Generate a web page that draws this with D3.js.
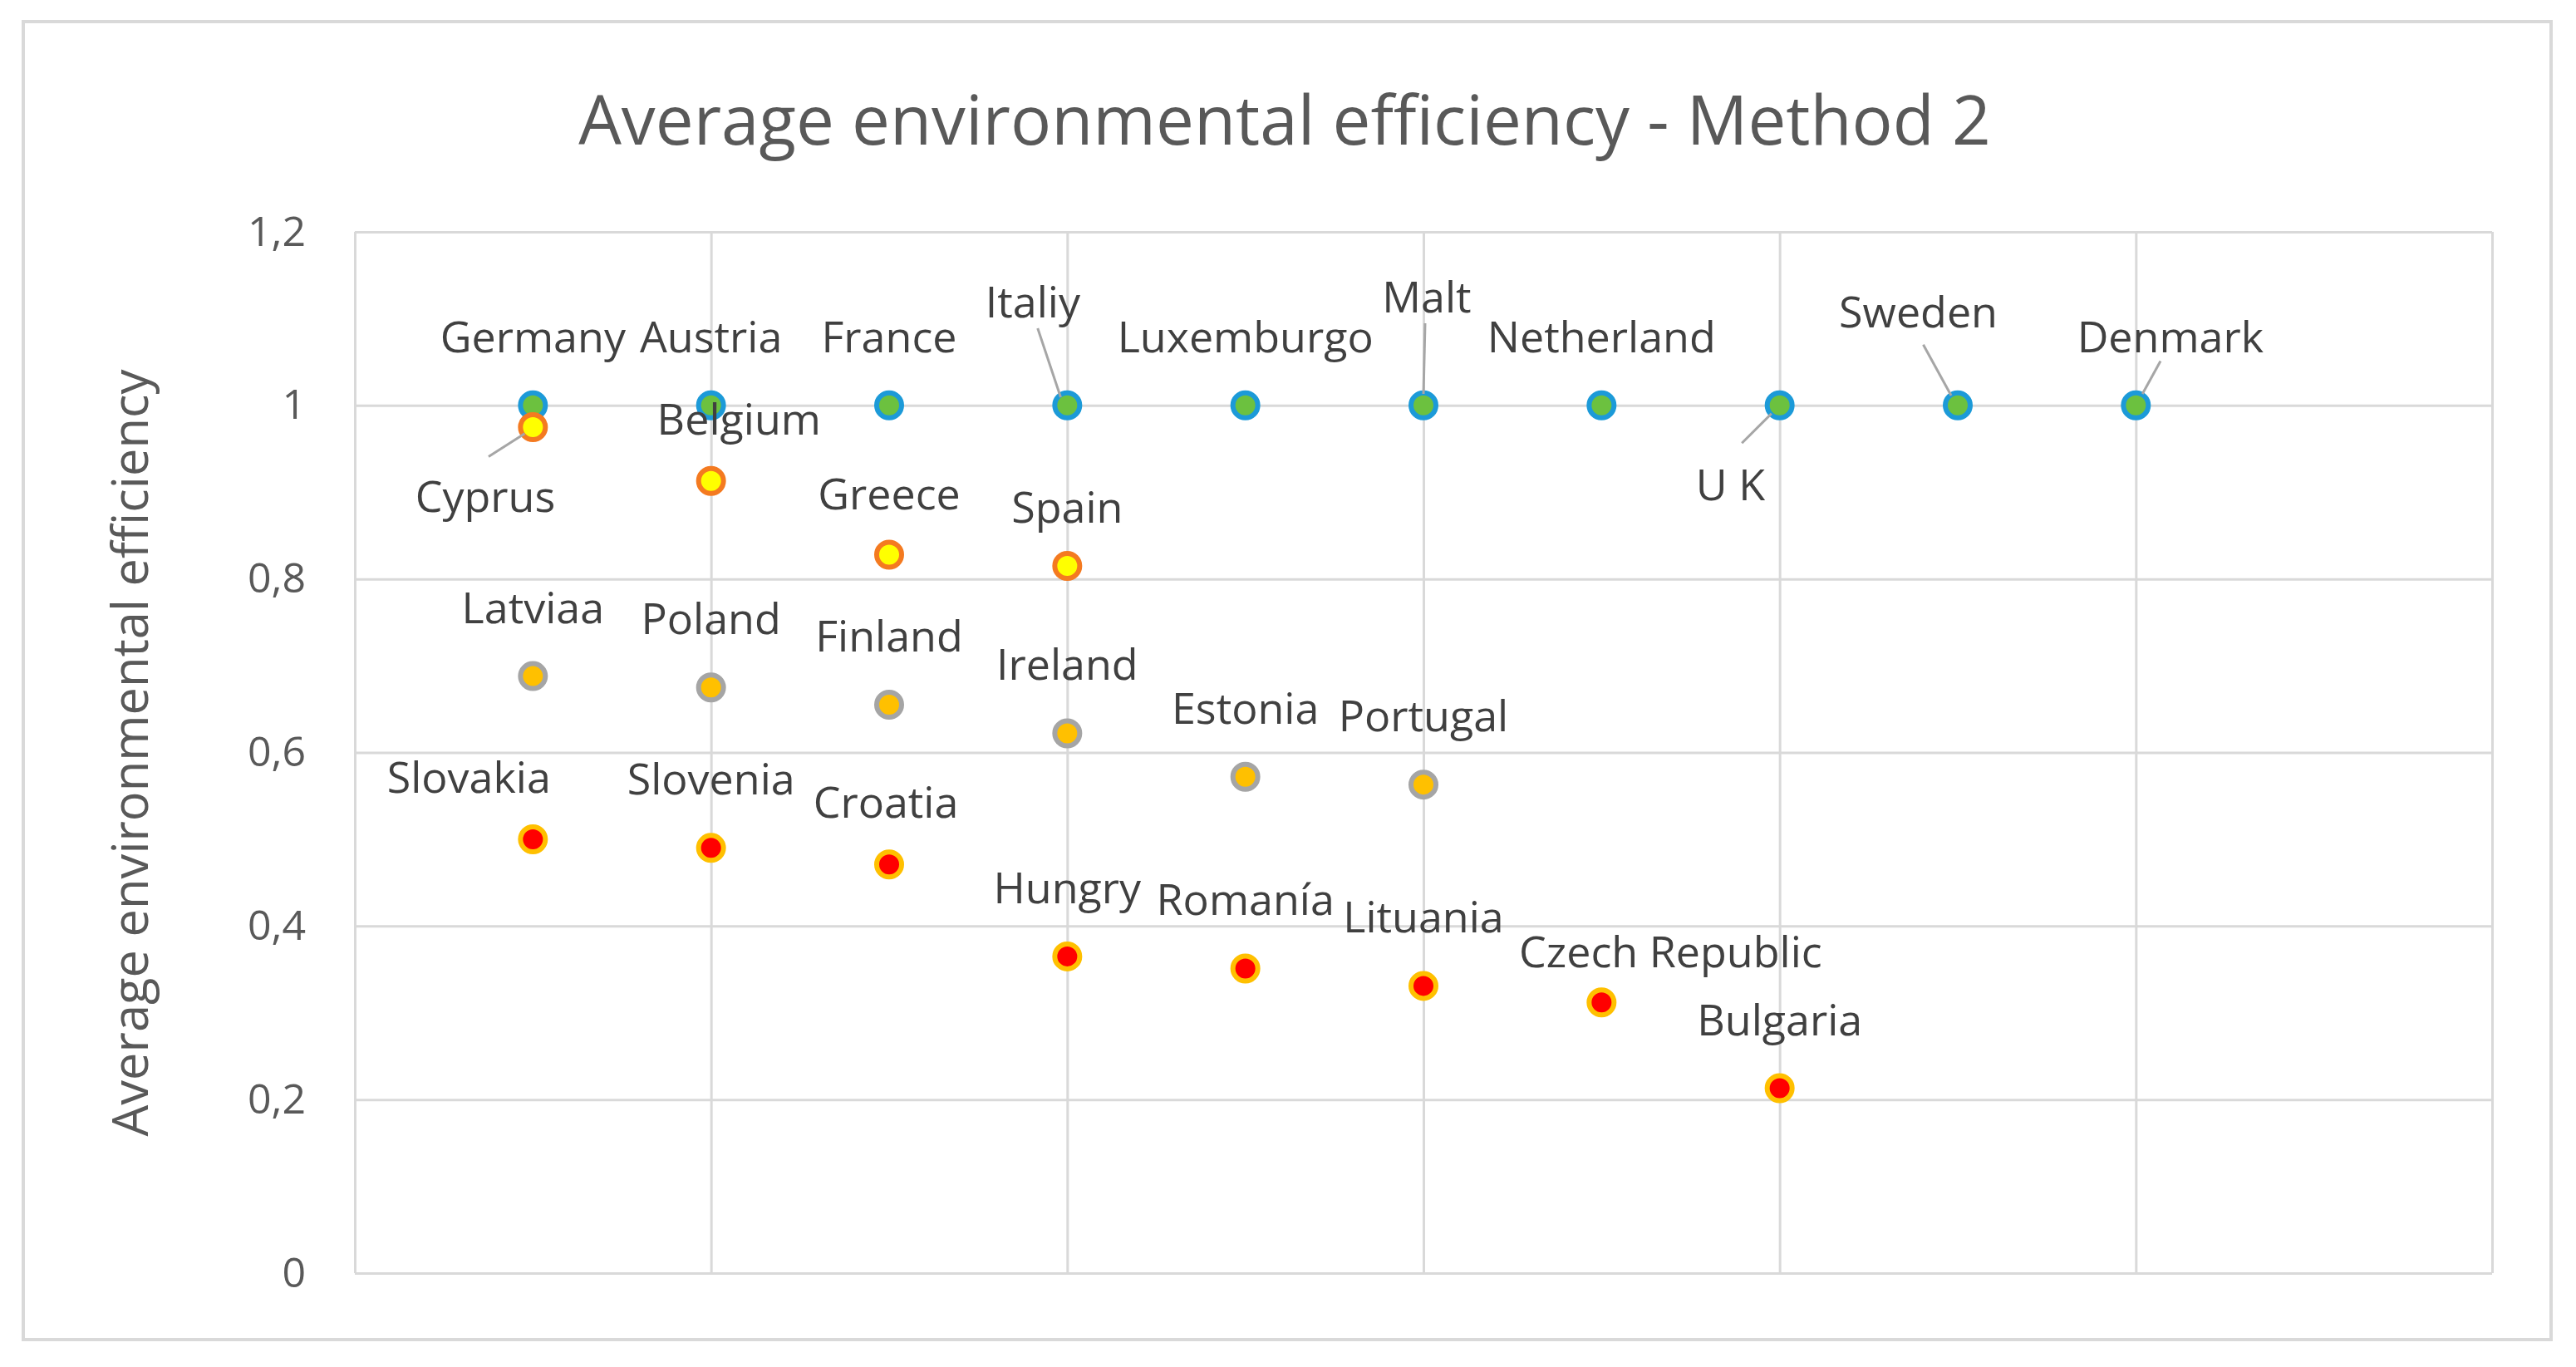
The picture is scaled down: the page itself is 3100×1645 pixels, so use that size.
<!DOCTYPE html>
<html>
<head>
<meta charset="utf-8">
<script src="https://cdn.jsdelivr.net/npm/d3@7"></script>
<style>
  body { margin: 0; background: #fff; }
  text { font-family: "Open Sans", sans-serif; }
</style>
</head>
<body>
<div id="chart"></div>
<script>
// data
var efficientNames = ["Germany", "Austria", "France", "Italiy", "Luxemburgo", "Malt", "Netherland", "U K", "Sweden", "Denmark"];
var efficientValues = [1, 1, 1, 1, 1, 1, 1, 1, 1, 1];

var highNames = ["Cyprus", "Belgium", "Greece", "Spain"];
var highValues = [0.975, 0.913, 0.828, 0.815];

var midNames = ["Latviaa", "Poland", "Finland", "Ireland", "Estonia", "Portugal"];
var midValues = [0.688, 0.675, 0.655, 0.622, 0.572, 0.563];

var lowNames = ["Slovakia", "Slovenia", "Croatia", "Hungry", "Romanía", "Lituania", "Czech Republic", "Bulgaria"];
var lowValues = [0.500, 0.490, 0.471, 0.365, 0.351, 0.331, 0.312, 0.213];

var yTicks = [0, 0.2, 0.4, 0.6, 0.8, 1, 1.2];
var xGrid = [2, 4, 6, 8, 10, 12];

var width = 3100;
var height = 1645;
var k = 1.977; // label layout below is measured at half size

// label placement: text centre offset from the point, optional leader line
var labelLayout = {
  "Italiy": { dx: -21, dy: -63, line: [-18, -47, -4, -5] },
  "Malt": { dx: 2, dy: -66, line: [1, -50, 0, -7] },
  "U K": { dx: -30, dy: 48, line: [-23, 23, -5, 5] },
  "Sweden": { dx: -24, dy: -57, line: [-21, -37, -4, -6] },
  "Denmark": { dx: 21, dy: -42, line: [15, -27, 4, -7] },
  "Cyprus": { dx: -29, dy: 42, line: [-27, 18, -5, 4] },
  "Belgium": { dx: 17, dy: -38 },
  "Greece": { dx: 0, dy: -37 },
  "Spain": { dx: 0, dy: -36 },
  "Slovakia": { dx: -39, dy: -38 },
  "Croatia": { dx: -2, dy: -38 },
  "Czech Republic": { dx: 42, dy: -31 }
};

var series = [
  { names: efficientNames, values: efficientValues, fill: "#6cc13f", stroke: "#1c9ad8" },
  { names: highNames, values: highValues, fill: "#ffff00", stroke: "#f47a20" },
  { names: midNames, values: midValues, fill: "#ffc000", stroke: "#a5a5a5" },
  { names: lowNames, values: lowValues, fill: "#ff0000", stroke: "#ffc000" }
];

var plot = { left: 427, right: 2999, top: 279, bottom: 1532 };

var svg = d3.select("#chart").append("svg")
    .attr("width", width).attr("height", height);

svg.append("rect").attr("width", width).attr("height", height).attr("fill", "#fff");

// outer chart border
svg.append("rect")
   .attr("x", 28).attr("y", 26)
   .attr("width", 3042).attr("height", 1586)
   .attr("fill", "none")
   .attr("stroke", "#d9d9d9")
   .attr("stroke-width", 4);

var x = d3.scaleLinear().domain([0, 12]).range([plot.left, plot.right]);
var y = d3.scaleLinear().domain([0, 1.2]).range([plot.bottom, plot.top]);

// horizontal grid + tick labels
var yAxis = svg.append("g")
   .attr("transform", "translate(" + plot.left + ",0)")
   .call(d3.axisLeft(y)
      .tickValues(yTicks)
      .tickSize(-(plot.right - plot.left))
      .tickPadding(59)
      .tickFormat(function(d) { return d === 0 ? "0" : String(+d.toFixed(1)).replace(".", ","); }));
yAxis.select(".domain").remove();
yAxis.selectAll("line").attr("stroke", "#d9d9d9").attr("stroke-width", 3);
yAxis.selectAll("text")
   .attr("fill", "#595959")
   .style("font-size", "50px")
   .style("font-family", "'Open Sans', sans-serif");

// vertical grid
var xAxis = svg.append("g")
   .attr("transform", "translate(0," + plot.bottom + ")")
   .call(d3.axisBottom(x)
      .tickValues([0].concat(xGrid))
      .tickSize(-(plot.bottom - plot.top))
      .tickFormat(""));
xAxis.select(".domain").remove();
xAxis.selectAll("line").attr("stroke", "#d9d9d9").attr("stroke-width", 3);

// title
var title = svg.append("text")
   .attr("x", 1546).attr("y", 142)
   .attr("text-anchor", "middle")
   .attr("dominant-baseline", "central")
   .attr("fill", "#595959")
   .style("font-size", "80px")
   .text("Average environmental efficiency - Method 2");
fitWidth(title, 1700);

// y axis title
var yTitle = svg.append("text")
   .attr("transform", "translate(154,906) rotate(-90)")
   .attr("text-anchor", "middle")
   .attr("dominant-baseline", "central")
   .attr("fill", "#595959")
   .style("font-size", "56px")
   .text("Average environmental efficiency");
fitWidth(yTitle, 923);

function fitWidth(sel, target) {
  var w = sel.node().getComputedTextLength();
  var fs = parseFloat(sel.style("font-size"));
  sel.style("font-size", (fs * target / w) + "px");
}

// points, leader lines and labels
series.forEach(function(s) {
  var pts = s.names.map(function(n, i) {
    return { name: n, x: i + 1, v: s.values[i] };
  });
  var g = svg.append("g");

  g.selectAll("circle").data(pts).enter().append("circle")
   .attr("cx", function(d) { return x(d.x); })
   .attr("cy", function(d) { return y(d.v); })
   .attr("r", 15)
   .attr("fill", s.fill)
   .attr("stroke", s.stroke)
   .attr("stroke-width", 6);

  pts.forEach(function(d) {
    var lay = labelLayout[d.name] || { dx: 0, dy: -42 };
    var px = x(d.x), py = y(d.v);
    if (lay.line) {
      g.append("line")
       .attr("x1", px + lay.line[0] * k).attr("y1", py + lay.line[1] * k)
       .attr("x2", px + lay.line[2] * k).attr("y2", py + lay.line[3] * k)
       .attr("stroke", "#a6a6a6")
       .attr("stroke-width", 3);
    }
    g.append("text")
     .attr("x", px + lay.dx * k)
     .attr("y", py + lay.dy * k + 19)
     .attr("text-anchor", "middle")
     .attr("fill", "#404040")
     .style("font-size", "52px")
     .text(d.name);
  });
});
</script>
</body>
</html>
